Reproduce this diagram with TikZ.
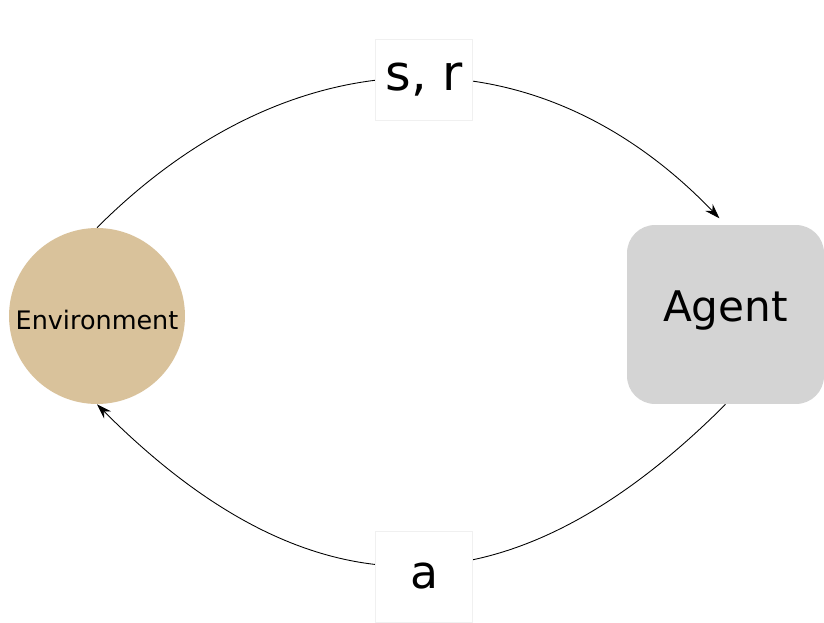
\documentclass[tikz,border=0pt]{standalone}
\usepackage{fontspec}
\setmainfont{DejaVu Sans}
\usepackage{tikz}
\usetikzlibrary{arrows.meta, positioning}
\definecolor{envtan}{RGB}{217, 194, 155}
\definecolor{agentgray}{RGB}{212, 212, 212}
\definecolor{labelrim}{RGB}{240, 240, 240}

\begin{document}
\begin{tikzpicture}[
        x=0.02cm, y=-0.02cm,
        envnode/.style={circle, fill=envtan, minimum size=3.52cm, inner sep=0pt, text height=0.6cm, text depth=0.05cm, font=\fontsize{14.5}{16}\selectfont},
        agentbox/.style={rectangle, fill=agentgray, rounded corners=0.56cm, minimum width=3.94cm, minimum height=3.58cm, text height=0.6cm, text depth=0.31cm, font=\fontsize{24}{28}\selectfont},
        lbl/.style={rectangle, fill=white, draw=labelrim, minimum width=1.94cm, minimum height=1.62cm},
        arrow/.style={-{Stealth[length=3mm, width=2mm]}, line width=0.5pt}
    ]
        \useasboundingbox (0,0) rectangle (824,622);

        \node[envnode] (env) at (97,316) {Environment};
        \node[agentbox] (agent) at (725.5,314.5) {Agent};

        % state and reward go to the agent, the action goes back
        \draw[arrow, shorten >=5] (env.north) .. controls +(196,-196) and +(-188,-196) .. (agent.north);
        \draw[arrow] (agent.south) .. controls +(-216,216) and +(214,214) .. (env.south);

        \node[lbl, font=\fontsize{28}{32}\selectfont] (sr) at (424,80) {s, r};
        \node[lbl, minimum height=1.82cm, font=\fontsize{26}{30}\selectfont] (act) at (424,576.5) {a};
    \end{tikzpicture}
\end{document}
